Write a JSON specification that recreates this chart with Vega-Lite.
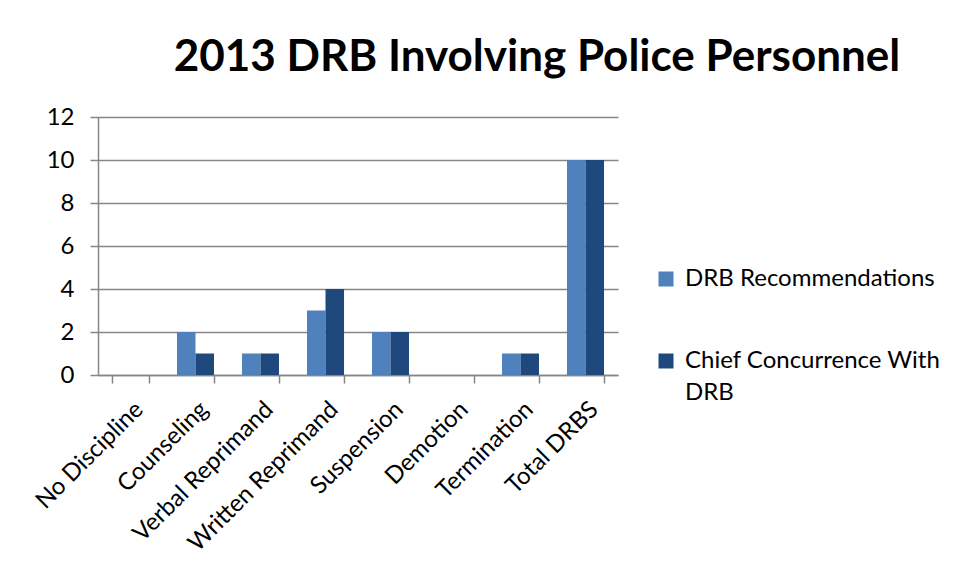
{
  "$schema": "https://vega.github.io/schema/vega-lite/v6.json",
  "autosize": {"type": "none"},
  "width": 520,
  "height": 258,
  "padding": {"left": 98, "top": 117, "right": 336, "bottom": 203},
  "background": "white",
  "title": {
    "text": "2013 DRB Involving Police Personnel",
    "font": "Lato",
    "fontWeight": "bold",
    "fontSize": 44,
    "color": "black",
    "anchor": "middle",
    "dx": 179,
    "offset": 25
  },
  "data": {
    "values": [
      {"category": "No Discipline", "series": "DRB Recommendations", "value": 0},
      {"category": "No Discipline", "series": "Chief Concurrence With DRB", "value": 0},
      {"category": "Counseling", "series": "DRB Recommendations", "value": 2},
      {"category": "Counseling", "series": "Chief Concurrence With DRB", "value": 1},
      {"category": "Verbal Reprimand", "series": "DRB Recommendations", "value": 1},
      {"category": "Verbal Reprimand", "series": "Chief Concurrence With DRB", "value": 1},
      {"category": "Written Reprimand", "series": "DRB Recommendations", "value": 3},
      {"category": "Written Reprimand", "series": "Chief Concurrence With DRB", "value": 4},
      {"category": "Suspension", "series": "DRB Recommendations", "value": 2},
      {"category": "Suspension", "series": "Chief Concurrence With DRB", "value": 2},
      {"category": "Demotion", "series": "DRB Recommendations", "value": 0},
      {"category": "Demotion", "series": "Chief Concurrence With DRB", "value": 0},
      {"category": "Termination", "series": "DRB Recommendations", "value": 1},
      {"category": "Termination", "series": "Chief Concurrence With DRB", "value": 1},
      {"category": "Total DRBS", "series": "DRB Recommendations", "value": 10},
      {"category": "Total DRBS", "series": "Chief Concurrence With DRB", "value": 10}
    ]
  },
  "mark": {"type": "bar"},
  "encoding": {
    "x": {
      "field": "category",
      "type": "nominal",
      "sort": null,
      "title": null,
      "scale": {"paddingInner": 0.43, "paddingOuter": 0.215},
      "axis": {
        "labelAngle": -45,
        "labelFont": "Lato",
        "labelFontSize": 24,
        "labelColor": "black",
        "labelPadding": 14,
        "labelLimit": 400,
        "tickBand": "extent",
        "tickSize": 8,
        "tickColor": "#868686",
        "tickWidth": 1.5,
        "domainColor": "#868686",
        "domainWidth": 1.5,
        "grid": false
      }
    },
    "xOffset": {"field": "series", "type": "nominal", "sort": ["DRB Recommendations", "Chief Concurrence With DRB"], "scale": {"paddingInner": 0, "paddingOuter": 0}},
    "y": {
      "field": "value",
      "type": "quantitative",
      "title": null,
      "scale": {"domain": [0, 12], "nice": false},
      "axis": {
        "values": [0, 2, 4, 6, 8, 10, 12],
        "labelFont": "Lato",
        "labelFontSize": 24,
        "labelColor": "black",
        "labelPadding": 16,
        "tickSize": 8,
        "tickColor": "#868686",
        "tickWidth": 1.5,
        "domainColor": "#868686",
        "domainWidth": 1.5,
        "gridColor": "#868686",
        "gridWidth": 1.5
      }
    },
    "color": {
      "field": "series",
      "type": "nominal",
      "sort": ["DRB Recommendations", "Chief Concurrence With DRB"],
      "scale": {"domain": ["DRB Recommendations", "Chief Concurrence With DRB"], "range": ["#4F81BD", "#1F497D"]},
      "legend": {
        "title": null,
        "orient": "none",
        "legendX": 556,
        "legendY": 150,
        "symbolType": "square",
        "symbolSize": 225,
        "symbolStrokeWidth": 0,
        "labelFont": "Lato",
        "labelFontSize": 24,
        "labelColor": "black",
        "labelOffset": 7,
        "labelLimit": 400,
        "rowPadding": 58,
        "labelExpr": "datum.label == 'Chief Concurrence With DRB' ? ['Chief Concurrence With', 'DRB'] : datum.label"
      }
    }
  },
  "config": {
    "view": {"stroke": null},
    "style": {"guide-label": {"lineHeight": 32}}
  }
}
